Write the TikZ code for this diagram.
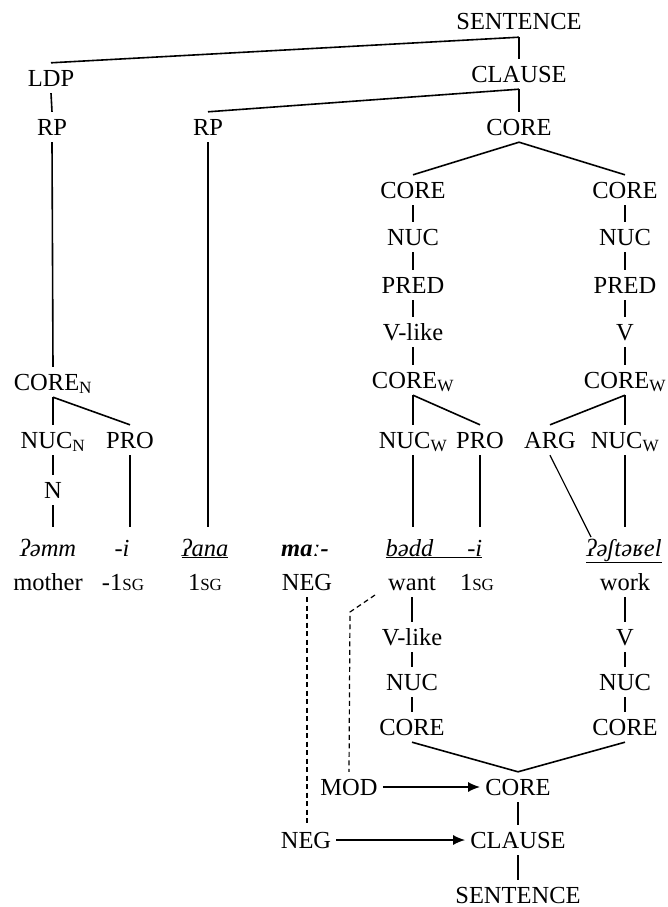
\documentclass[tikz,border=0pt]{standalone}
\usepackage{fontspec}
\setmainfont{Liberation Serif}
\usetikzlibrary{arrows.meta}
\newcommand{\smsg}{{\fontsize{17}{17}\selectfont SG}}
\newcommand{\subx}[1]{\textsubscript{#1}}
\begin{document}
\begin{tikzpicture}[x=1pt,y=-1pt,
  lbl/.style={text height=16pt,text depth=0pt,inner xsep=5pt,inner ysep=7pt,font=\fontsize{24.5}{28}\selectfont},
  wd/.style={lbl,inner ysep=13pt,font=\fontsize{24.5}{28}\selectfont\itshape},
  edge/.style={line width=1.6pt},
  dsh/.style={line width=1.2pt,dash pattern=on 5pt off 3.5pt},
  arr/.style={line width=1.6pt,-{Latex[length=12pt,width=10pt]}}]
\useasboundingbox (0,0) rectangle (668,907);
% top part
\node[lbl] (S1) at (519,22) {SENTENCE};
\node[lbl] (LDP) at (51,78) {LDP};
\node[lbl] (CL1) at (519,74) {CLAUSE};
\node[lbl] (RP1) at (52,127) {RP};
\node[lbl] (RP2) at (208,127) {RP};
\node[lbl] (CO1) at (519,127) {CORE};
\node[lbl] (COa) at (413,190) {CORE};
\node[lbl] (COb) at (625,190) {CORE};
\node[lbl] (NUa) at (413,237) {NUC};
\node[lbl] (NUb) at (625,237) {NUC};
\node[lbl] (PRa) at (413,285) {PRED};
\node[lbl] (PRb) at (625,285) {PRED};
\node[lbl] (VLa) at (413,332) {V-like};
\node[lbl] (Vb) at (625,332) {V};
\node[lbl] (CN) at (53,382) {CORE\subx{N}};
\node[lbl] (CWa) at (413,380) {CORE\subx{W}};
\node[lbl] (CWb) at (625,380) {CORE\subx{W}};
\node[lbl] (NN) at (53,440) {NUC\subx{N}};
\node[lbl] (PRO1) at (130,440) {PRO};
\node[lbl] (NWa) at (413,440) {NUC\subx{W}};
\node[lbl] (PROa) at (480,440) {PRO};
\node[lbl] (ARG) at (550,440) {ARG};
\node[lbl] (NWb) at (625,440) {NUC\subx{W}};
\node[lbl] (N) at (53,490) {N};
% words
\node[wd] (w1) at (48,548) {ʔəmm};
\node[wd] (w2) at (122,548) {-i};
\node[wd] (w3) at (205,548) {\underline{ʔana}};
\node[wd] (w4) at (305,548) {\bfseries maː-};
\node[wd] (w5) at (434,548) {\underline{bədd\hspace{34pt}-i}};
\node[wd] (w6) at (624,548) {\underline{ʔəʃtəʁel}};
\coordinate (argend) at (591,537);
% glosses
\node[lbl] (g1) at (48,582) {mother};
\node[lbl] (g2) at (123,582) {-1\smsg};
\node[lbl] (g3) at (205,582) {1\smsg};
\node[lbl] (g4) at (307,582) {NEG};
\node[lbl] (g5) at (412,582) {want};
\node[lbl] (g6) at (477,582) {1\smsg};
\node[lbl] (g7) at (625,582) {work};
% lower part
\node[lbl] (VLc) at (412,637) {V-like};
\node[lbl] (Vd) at (625,637) {V};
\node[lbl] (NUc) at (412,682) {NUC};
\node[lbl] (NUd) at (625,682) {NUC};
\node[lbl] (COc) at (412,727) {CORE};
\node[lbl] (COd) at (625,727) {CORE};
\node[lbl] (CO2) at (518,787) {CORE};
\node[lbl] (MOD) at (349,787) {MOD};
\node[lbl] (CL2) at (518,840) {CLAUSE};
\node[lbl] (NEG2) at (306,840) {NEG};
\node[lbl] (S2) at (518,895) {SENTENCE};
\coordinate (mk1) at (375,595);
\coordinate (mk2) at (350,612);
% edges top
\draw[edge] (S1.south) -- (LDP.north);
\draw[edge] (S1.south) -- (CL1.north);
\draw[edge] (LDP.south) -- (RP1.north);
\draw[edge] (CL1.south) -- (RP2.north);
\draw[edge] (CL1.south) -- (CO1.north);
\draw[edge] (CO1.south) -- (COa.north);
\draw[edge] (CO1.south) -- (COb.north);
\draw[edge] (COa) -- (NUa) -- (PRa) -- (VLa) -- (CWa);
\draw[edge] (COb) -- (NUb) -- (PRb) -- (Vb) -- (CWb);
\draw[edge] (CWa.south) -- (NWa.north);
\draw[edge] (CWa.south) -- (PROa.north);
\draw[edge] (CWb.south) -- (ARG.north);
\draw[edge] (CWb.south) -- (NWb.north);
\draw[edge] (RP1.south) -- (CN.north);
\draw[edge] (CN.south) -- (NN.north);
\draw[edge] (CN.south) -- (PRO1.north);
\draw[edge] (NN.south) -- (N.north);
\draw[edge] (N.south) -- (N.south |- w1.north);
\draw[edge] (PRO1.south) -- (PRO1.south |- w2.north);
\draw[edge] (RP2.south) -- (RP2.south |- w3.north);
\draw[edge] (NWa.south) -- (NWa.south |- w5.north);
\draw[edge] (PROa.south) -- (PROa.south |- w5.north);
\draw[edge] (NWb.south) -- (NWb.south |- w6.north);
\draw[line width=1.2pt] (ARG.south) -- (argend);
% lower edges
\draw[edge] (g5) -- (VLc) -- (NUc) -- (COc);
\draw[edge] (g7) -- (Vd) -- (NUd) -- (COd);
\draw[edge] (COc.south) -- (CO2.north);
\draw[edge] (COd.south) -- (CO2.north);
\draw[edge] (CO2) -- (CL2) -- (S2);
\draw[arr] (MOD.east) -- (CO2.west);
\draw[arr] (NEG2.east) -- (CL2.west);
\draw[dsh] (g4.south) -- (g4.south |- NEG2.north);
\draw[dsh] (mk1) -- (mk2) -- (MOD.north);
\end{tikzpicture}
\end{document}
